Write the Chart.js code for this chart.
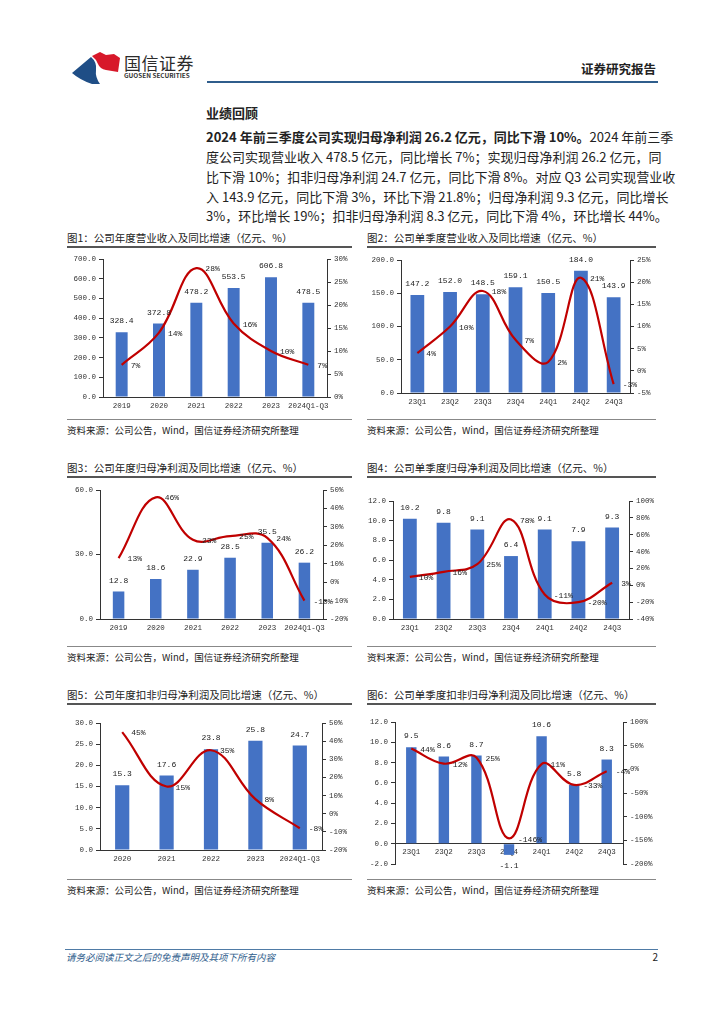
<!DOCTYPE html>
<html>
<head>
<meta charset="utf-8">
<script src="https://cdn.jsdelivr.net/npm/chart.js@4.4.0/dist/chart.umd.min.js"></script>
<style>
  body { margin: 0; width: 724px; height: 1024px; position: relative; overflow: hidden; background: #fff;
         font-family: "Noto Sans CJK SC", sans-serif; color: #222; }
  .abs { position: absolute; white-space: nowrap; }
  .para { position: absolute; left: 206px; width: 451px; height: 20px; line-height: 20px; font-size: 13px;
          text-align: justify; text-align-last: justify; white-space: nowrap; }
  .title { position: absolute; font-size: 10.5px; line-height: 14px; white-space: nowrap; }
  .tline { position: absolute; height: 1.5px; background: #555; }
  .sep { position: absolute; height: 1px; background: #888; }
  .src { position: absolute; font-size: 9.5px; line-height: 12px; white-space: nowrap; }
  .box { position: absolute; }
</style>
</head>
<body>

<!-- 页眉 -->
<svg class="abs" style="left:70px;top:50px" width="54" height="36" viewBox="0 0 54 36">
  <path d="M2 23 L21 7 Q27 12 26 20 Q25 27 30 34 L22 34 Q10 30 2 23 Z" fill="#1F4E86"/>
  <path d="M22 6 L30 2 L36 5 L44 4 L50 8 L48 22 L36 20 Q30 19 28 14 Q26 9 22 6 Z" fill="#D7182A"/>
</svg>
<div class="abs" style="left:124px;top:52px;font-size:17px;line-height:22px;color:#2b2b2b;letter-spacing:0.5px">国信证券</div>
<div class="abs" style="left:124px;top:72px;font-size:6.4px;line-height:8px;font-weight:bold;color:#333">GUOSEN SECURITIES</div>
<div class="abs" style="right:68px;top:61px;font-size:12.5px;line-height:16px;font-weight:bold">证券研究报告</div>
<div class="abs" style="left:207px;top:81px;width:451px;height:2px;background:#2F5D8C"></div>

<!-- 正文 -->
<div class="abs" style="left:206px;top:104px;font-size:13px;line-height:18px;font-weight:bold">业绩回顾</div>
<div class="para" style="top:127px"><b>2024 年前三季度公司实现归母净利润 26.2 亿元，同比下滑 10%。</b>2024 年前三季</div>
<div class="para" style="top:147px">度公司实现营业收入 478.5 亿元，同比增长 7%；实现归母净利润 26.2 亿元，同</div>
<div class="para" style="top:167px">比下滑 10%；扣非归母净利润 24.7 亿元，同比下滑 8%。对应 Q3 公司实现营业收</div>
<div class="para" style="top:187px">入 143.9 亿元，同比下滑 3%，环比下滑 21.8%；归母净利润 9.3 亿元，同比增长</div>
<div class="para" style="top:206px">3%，环比增长 19%；扣非归母净利润 8.3 亿元，同比下滑 4%，环比增长 44%。</div>

<!-- 图表标题与来源 -->
<div class="title" style="left:67px;top:231px">图1：公司年度营业收入及同比增速（亿元、%）</div>
<div class="title" style="left:367px;top:231px">图2：公司单季度营业收入及同比增速（亿元、%）</div>
<div class="tline" style="left:67px;top:246px;width:285px"></div>
<div class="tline" style="left:367px;top:246px;width:289px"></div>
<div class="sep" style="left:67px;top:419px;width:285px"></div>
<div class="sep" style="left:367px;top:419px;width:289px"></div>
<div class="src" style="left:67px;top:424px">资料来源：公司公告，Wind，国信证券经济研究所整理</div>
<div class="src" style="left:367px;top:424px">资料来源：公司公告，Wind，国信证券经济研究所整理</div>

<div class="title" style="left:67px;top:461px">图3：公司年度归母净利润及同比增速（亿元、%）</div>
<div class="title" style="left:367px;top:461px">图4：公司单季度归母净利润及同比增速（亿元、%）</div>
<div class="tline" style="left:67px;top:476px;width:285px"></div>
<div class="tline" style="left:367px;top:476px;width:289px"></div>
<div class="sep" style="left:67px;top:646px;width:285px"></div>
<div class="sep" style="left:367px;top:646px;width:289px"></div>
<div class="src" style="left:67px;top:651px">资料来源：公司公告，Wind，国信证券经济研究所整理</div>
<div class="src" style="left:367px;top:651px">资料来源：公司公告，Wind，国信证券经济研究所整理</div>

<div class="title" style="left:67px;top:688px">图5：公司年度扣非归母净利润及同比增速（亿元、%）</div>
<div class="title" style="left:367px;top:688px">图6：公司单季度扣非归母净利润及同比增速（亿元、%）</div>
<div class="tline" style="left:67px;top:703px;width:285px"></div>
<div class="tline" style="left:367px;top:703px;width:289px"></div>
<div class="sep" style="left:67px;top:879px;width:285px"></div>
<div class="sep" style="left:367px;top:879px;width:289px"></div>
<div class="src" style="left:67px;top:884px">资料来源：公司公告，Wind，国信证券经济研究所整理</div>
<div class="src" style="left:367px;top:884px">资料来源：公司公告，Wind，国信证券经济研究所整理</div>

<div class="box" id="b1"><canvas id="c1"></canvas></div>
<div class="box" id="b2"><canvas id="c2"></canvas></div>
<div class="box" id="b3"><canvas id="c3"></canvas></div>
<div class="box" id="b4"><canvas id="c4"></canvas></div>
<div class="box" id="b5"><canvas id="c5"></canvas></div>
<div class="box" id="b6"><canvas id="c6"></canvas></div>

<!-- 页脚 -->
<div class="abs" style="left:65px;top:949px;width:593px;height:1px;background:#4F7BA6"></div>
<div class="abs" style="left:66px;top:951px;font-size:9.5px;line-height:12px;font-style:italic;color:#2F5D8C">请务必阅读正文之后的免责声明及其项下所有内容</div>
<div class="abs" style="right:66px;top:950px;font-size:10px;line-height:14px">2</div>

<script>
// 横轴标签
const yearLabels = ['2019', '2020', '2021', '2022', '2023', '2024Q1-Q3'];
const yearLabels5 = ['2020', '2021', '2022', '2023', '2024Q1-Q3'];
const quarterLabels = ['23Q1', '23Q2', '23Q3', '23Q4', '24Q1', '24Q2', '24Q3'];

// 图1 年度营业收入（亿元）及同比（%）
const revenueYear = [328.4, 372.8, 478.2, 553.5, 606.8, 478.5];
const revenueYearYoy = [7, 14, 28, 16, 10, 7];
// 图2 单季度营业收入
const revenueQ = [147.2, 152.0, 148.5, 159.1, 150.5, 184.0, 143.9];
const revenueQYoy = [4, 10, 18, 7, 2, 21, -3];
// 图3 年度归母净利润
const profitYear = [12.8, 18.6, 22.9, 28.5, 35.5, 26.2];
const profitYearYoy = [13, 46, 23, 25, 24, -10];
// 图4 单季度归母净利润
const profitQ = [10.2, 9.8, 9.1, 6.4, 9.1, 7.9, 9.3];
const profitQYoy = [10, 16, 25, 78, -11, -20, 3];
// 图5 年度扣非归母净利润
const deductYear = [15.3, 17.6, 23.8, 25.8, 24.7];
const deductYearYoy = [45, 15, 35, 8, -8];
// 图6 单季度扣非归母净利润
const deductQ = [9.5, 8.6, 8.7, -1.1, 10.6, 5.8, 8.3];
const deductQYoy = [44, 12, 25, -146, 11, -33, -4];

const numFont = '"Liberation Mono", "Noto Sans CJK SC", monospace';
const axisColor = '#333';

// 数据标签
const valueLabels = {
    id: 'valueLabels',
    afterDatasetsDraw(chart) {
        const ctx = chart.ctx;
        ctx.save();
        ctx.font = '8px ' + numFont;
        ctx.fillStyle = '#222';
        ctx.textBaseline = 'middle';
        chart.data.datasets.forEach((ds, di) => {
            const meta = chart.getDatasetMeta(di);
            meta.data.forEach((el, i) => {
                const v = ds.data[i];
                if (ds.type === 'bar') {
                    ctx.textAlign = 'center';
                    ctx.fillText(v.toFixed(1), el.x, v >= 0 ? el.y - 11 : el.y + 11);
                } else {
                    ctx.textAlign = 'left';
                    ctx.fillText(v + '%', el.x + 9, el.y + 1);
                }
            });
        });
        ctx.restore();
    }
};

function sideAxis(pos, min, max, step, fmt, width) {
    return {
        position: pos, min: min, max: max,
        ticks: { stepSize: step, callback: fmt, color: axisColor, padding: 3, font: { size: 7.5, family: numFont } },
        grid: { display: true, drawOnChartArea: false, drawTicks: true, tickLength: 4, color: axisColor },
        border: { display: true, color: axisColor, width: 1 },
        afterFit: s => { s.width = width; }
    };
}

// box: 画布位置 [x, y, w, h]；plot: 绘图区 [左, 上, 右, 下]（页面坐标）
function drawChart(n, box, plot, labels, bars, yoy, left, right, barPct, zeroAxis) {
    const wrap = document.getElementById('b' + n);
    wrap.style.left = box[0] + 'px';
    wrap.style.top = box[1] + 'px';
    const canvas = document.getElementById('c' + n);
    canvas.width = box[2];
    canvas.height = box[3];
    const padTop = plot[1] - box[1];
    const leftW = plot[0] - box[0];
    const rightW = box[0] + box[2] - plot[2];
    const bottomH = box[1] + box[3] - plot[3];

    const xAxis = {
        position: zeroAxis ? { y: 0 } : 'bottom',
        offset: true,
        ticks: { color: axisColor, padding: zeroAxis ? 4 : 5, maxRotation: 0, autoSkip: false, font: { size: 7.5, family: numFont } },
        grid: { display: false, drawTicks: false },
        border: { display: true, color: axisColor, width: 1 }
    };
    if (!zeroAxis) xAxis.afterFit = s => { s.height = bottomH; };

    new Chart(canvas, {
        type: 'bar',
        data: {
            labels: labels,
            datasets: [
                { type: 'line', data: yoy, yAxisID: 'y1', borderColor: '#C00000', borderWidth: 2.2,
                  pointRadius: 0, tension: 0.4, fill: false, order: 0 },
                { type: 'bar', data: bars, yAxisID: 'y', backgroundColor: '#4472C4',
                  barPercentage: barPct, categoryPercentage: 1, order: 1 }
            ]
        },
        options: {
            responsive: false,
            animation: false,
            layout: { padding: { top: padTop, left: 0, right: 0, bottom: zeroAxis ? bottomH : 0 } },
            plugins: { legend: { display: false }, tooltip: { enabled: false } },
            scales: {
                x: xAxis,
                y: sideAxis('left', left[0], left[1], left[2], v => v.toFixed(1), leftW),
                y1: sideAxis('right', right[0], right[1], right[2], v => v + '%', rightW)
            }
        },
        plugins: [valueLabels]
    });
}

drawChart(1, [67, 248, 285, 170], [103, 259, 327, 397], yearLabels, revenueYear, revenueYearYoy,
    [0, 700, 100], [0, 30, 5], 0.32, false);
drawChart(2, [367, 248, 289, 170], [401, 260, 630, 393], quarterLabels, revenueQ, revenueQYoy,
    [0, 200, 50], [-5, 25, 5], 0.42, false);
drawChart(3, [67, 478, 285, 167], [100, 490, 323, 619], yearLabels, profitYear, profitYearYoy,
    [0, 60, 30], [-20, 50, 10], 0.31, false);
drawChart(4, [367, 478, 289, 167], [393, 501, 629, 619], quarterLabels, profitQ, profitQYoy,
    [0, 12, 2], [-40, 100, 20], 0.41, false);
drawChart(5, [67, 705, 285, 173], [100, 723, 322, 850], yearLabels5, deductYear, deductYearYoy,
    [0, 30, 5], [-20, 50, 10], 0.32, false);
drawChart(6, [367, 705, 289, 173], [395, 722, 623, 864], quarterLabels, deductQ, deductQYoy,
    [-2, 12, 2], [-200, 100, 50], 0.32, true);
</script>
</body>
</html>
